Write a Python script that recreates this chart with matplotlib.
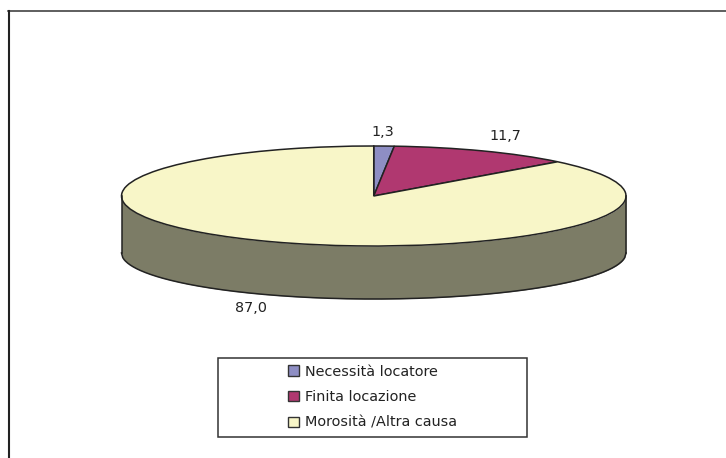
import matplotlib as mpl, numpy as np
import matplotlib.pyplot as plt
from matplotlib.lines import Line2D
from matplotlib.patches import Rectangle

# Data
categories = ['Necessità locatore', 'Finita locazione', 'Morosità /Altra causa']
values = [1.3, 11.7, 87.0]
value_labels = ['1,3', '11,7', '87,0']
colors = ['#8E8EC4', '#B03870', '#F8F6C8']
wall_color = '#7C7C66'
edge = '#222222'

W, H = 726, 458
plt.rc('font', family='DejaVu Sans', size=10.4)
fig = plt.figure(figsize=(W/100, H/100), dpi=100)

# Outer frame, only the top and left lines are inside the picture
fig.add_artist(Line2D([8/W, 1], [1-10.5/H, 1-10.5/H], transform=fig.transFigure, color='#333333', lw=1.1))
fig.add_artist(Line2D([8.5/W, 8.5/W], [1-10.5/H, 0], transform=fig.transFigure, color='#222222', lw=1.5))

# Pie is squashed by switching off the equal aspect, so radius 1 = 252px wide, 50px high
side = 57/50
bottom_ry = 46/50
ax = fig.add_axes([121.5/W, 1-299/H, 504.5/W, 153/H])
x = np.linspace(-1, 1, 400)
arc = np.sqrt(1 - x**2)
ax.fill_between(x, -arc, -side - bottom_ry*arc, color=wall_color, lw=0)
ax.plot(x, -side - bottom_ry*arc, color=edge, lw=1.1)
ax.plot([-1, -1], [0, -side], color=edge, lw=1.1)
ax.plot([1, 1], [0, -side], color=edge, lw=1.1)
ax.pie(values, colors=colors, startangle=90, counterclock=False, wedgeprops={'ec': edge, 'lw': 1.1})
ax.set_aspect('auto')
ax.set_xlim(-1, 1)
ax.set_ylim(-side - bottom_ry, 1)
for l in ax.lines:
    l.set_clip_on(False)

# Data labels
for lab, px, py in zip(value_labels, [383, 505, 251], [132, 136, 308]):
    fig.text(px/W, 1-py/H, lab, ha='center', va='center', color='#222222')

# Legend with its own box
fig.add_artist(Rectangle((218/W, 1-437/H), 309/W, 79/H, transform=fig.transFigure, fc='white', ec='#333333', lw=1.1))
handles = [Rectangle((0, 0), 1, 1, fc=c, ec='#333333', lw=1) for c in colors]
leg = fig.legend(handles, categories, loc='upper left', bbox_to_anchor=(288/W, 1-364.5/H), frameon=False,
                 handlelength=0.75, handleheight=0.7, handletextpad=0.4, labelspacing=0.8, borderpad=0, borderaxespad=0,
                 labelcolor='#222222')

fig.savefig('out.png', dpi=100)
